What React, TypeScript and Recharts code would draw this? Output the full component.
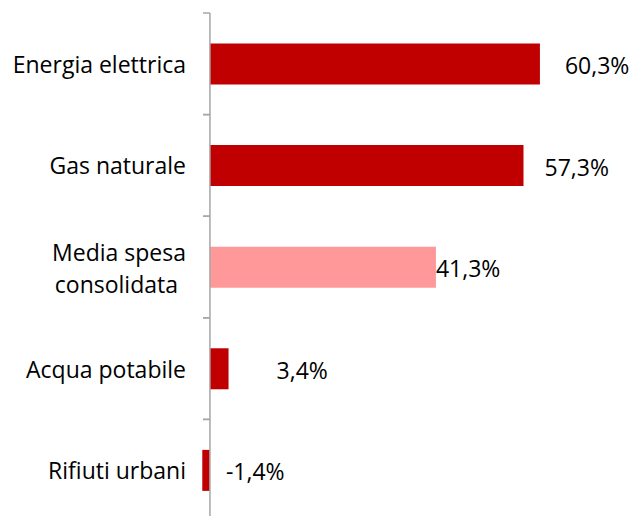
import { BarChart, Bar, XAxis, YAxis, Cell, LabelList, ReferenceLine } from "recharts";

const categories = ["Energia elettrica", "Gas naturale", "Media spesa consolidata", "Acqua potabile", "Rifiuti urbani"];
const values = [60.3, 57.3, 41.3, 3.4, -1.4];
const valueLabels = ["60,3%", "57,3%", "41,3%", "3,4%", "-1,4%"];

const RED = "#c00000";
const PINK = "#ff9999";
const AXIS_GREY = "#a6a6a6";
const FONT = "'Open Sans', sans-serif";
const FONT_SIZE = 23;

// layout (px) - plot runs a little past the bottom edge, as in the original
const W = 637;
const H = 516;
const CHART_H = 521;
const TOP = 13;
const AXIS_X = 210; // where 0 sits
const BAND = (CHART_H - TOP) / categories.length;
// Excel labels were nudged by hand, so offsets differ per bar
const labelGap = [25, 21, 0, 48, 16];

const data = categories.map((name, i) => ({ name, value: values[i], label: valueLabels[i] }));

function CategoryTick(props: any) {
  const { y, payload } = props;
  const lines: string[] = payload.value === "Media spesa consolidata" ? ["Media spesa", "consolidata"] : [payload.value];
  const lh = 32;
  const y0 = y - ((lines.length - 1) * lh) / 2 + (lines.length > 1 ? 1 : 0);
  return (
    <g>
      <line x1={AXIS_X - 7} x2={AXIS_X} y1={y - BAND / 2} y2={y - BAND / 2} stroke={AXIS_GREY} strokeWidth={1.5} />
      <line x1={AXIS_X - 7} x2={AXIS_X} y1={y + BAND / 2} y2={y + BAND / 2} stroke={AXIS_GREY} strokeWidth={1.5} />
      {lines.map((t, i) => (
        <text
          key={t}
          x={AXIS_X - 24 - (i > 0 ? 8 : 0)}
          y={y0 + i * lh}
          textAnchor="end"
          dominantBaseline="central"
          fontSize={FONT_SIZE}
          fontFamily={FONT}
          fill="#000"
        >
          {t}
        </text>
      ))}
    </g>
  );
}

function ValueLabel(props: any) {
  const { x, y, width, height, index } = props;
  const right = Math.max(x, x + width);
  return (
    <text
      x={right + labelGap[index]}
      y={y + height / 2 + 1}
      dominantBaseline="central"
      fontSize={FONT_SIZE}
      fontFamily={FONT}
      fill="#000"
    >
      {valueLabels[index]}
    </text>
  );
}

export default function App() {
  return (
    <div style={{ position: "absolute", left: 0, top: 0, width: W, height: H, overflow: "hidden", background: "#fff" }}>
      <BarChart
        width={W}
        height={CHART_H}
        data={data}
        layout="vertical"
        margin={{ top: TOP, right: 44, bottom: 0, left: 0 }}
        barCategoryGap="30%"
      >
        <XAxis type="number" domain={[-2, 70]} hide />
        <YAxis
          type="category"
          dataKey="name"
          width={199}
          axisLine={false}
          tickLine={false}
          tick={<CategoryTick />}
          interval={0}
        />
        <ReferenceLine x={0} stroke={AXIS_GREY} strokeWidth={1.5} ifOverflow="extendDomain" />
        <Bar dataKey="value" isAnimationActive={false}>
          {data.map((d, i) => (
            <Cell key={d.name} fill={i === 2 ? PINK : RED} />
          ))}
          <LabelList dataKey="label" content={<ValueLabel />} />
        </Bar>
      </BarChart>
    </div>
  );
}
